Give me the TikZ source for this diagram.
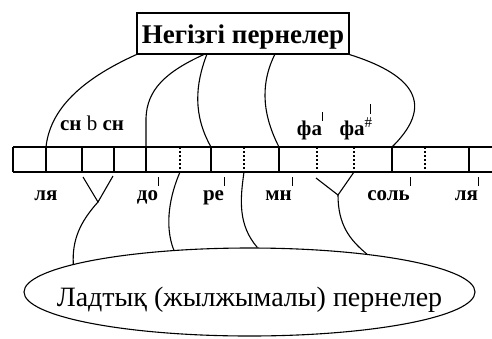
\documentclass[tikz,border=0pt]{standalone}
\usepackage{fontspec}
\setmainfont{Liberation Serif}
\usetikzlibrary{shapes.geometric}
\newcommand\pbar{\kern0.3pt\raisebox{1.5ex}{\rule{0.7pt}{0.85ex}}}
\begin{document}
\begin{tikzpicture}[x=1pt,y=-1pt,
  conn/.style={line width=1.1pt},
  rail/.style={line width=1.4pt},
  heavytick/.style={line width=2.2pt},
  lighttick/.style={line width=1.2pt},
  dottick/.style={line width=1.4pt, dash pattern=on 2pt off 2pt},
  lab/.style={font=\bfseries\fontsize{21}{24}\selectfont, inner sep=0pt, anchor=base},
  boxstyle/.style={draw, line width=1.1pt, minimum width=212pt, minimum height=41pt, inner sep=0pt},
  ellstyle/.style={draw, ellipse, line width=1.1pt, minimum width=451pt, minimum height=88pt, inner sep=0pt}
]
\useasboundingbox (0,0) rectangle (492,338);

% top box
\node[boxstyle] (B) at (243,33.5) {};
\node[anchor=base, inner sep=0pt, font=\bfseries\fontsize{27}{30}\selectfont] (Bt) at (243,43) {Негізгі пернелер};

% ellipse
\node[ellstyle] (E) at (249.5,292) {};
\node[anchor=base, inner sep=0pt, font=\fontsize{28}{31}\selectfont] (Et) at (249.5,306) {Ладтық (жылжымалы) пернелер};

% strip
\coordinate (sl1) at (13,147); \coordinate (sr1) at (492,147);
\coordinate (sl2) at (13,172); \coordinate (sr2) at (492,172);
\draw[rail] (sl1) -- (sr1);
\draw[rail] (sl2) -- (sr2);
\foreach \x in {13,46,82,114,146,180,211,244,279,317,354,392,425,469}{
  \coordinate (t\x) at (\x,147);
  \coordinate (b\x) at (\x,172);
}
\foreach \x in {13,82,114} \draw[lighttick] (t\x) -- (b\x);
\foreach \x in {46,146,211,279,392,469} \draw[heavytick] (t\x) -- (b\x);
\foreach \x in {180,244,317,354,425} \draw[dottick] (t\x) -- (b\x);

% connectors from top box
\coordinate (o2) at (205,54);
\coordinate (o3) at (207,54);
\coordinate (o4) at (275,54);
\draw[conn] (B.south west) .. controls (80,80) and (50,110) .. (t46);
\draw[conn] (o2) .. controls (165,72) and (147,90) .. (146,118) -- (t146);
\draw[conn] (o3) .. controls (195,85) and (193,115) .. (t211);
\draw[conn] (o4) .. controls (262,80) and (260,110) .. (t279);
\draw[conn] (B.south east) .. controls (405,72) and (440,100) .. (t392);

% connectors to ellipse
\coordinate (a1) at (83,177);
\coordinate (a2) at (113,176);
\coordinate (j1) at (98,202);
\draw[conn] (a1) -- (j1) -- (a2);
\draw[conn] (j1) .. controls (80,222) and (72,240) .. (E.171.8);
\draw[conn] (b180) .. controls (170,195) and (164,225) .. (E.151.8);
\draw[conn] (b244) .. controls (240,200) and (238,225) .. (E.80.3);
\coordinate (a3) at (316,178);
\coordinate (a4) at (354,172);
\coordinate (j2) at (338,195);
\draw[conn] (a3) -- (j2) -- (a4);
\draw[conn] (j2) .. controls (338,225) and (350,240) .. (E.18);

% labels above
\node[lab] (lsi) at (92,130) {сн {\mdseries b} сн};
\node[lab] (lfa) at (310,135) {фа\pbar};
\node[lab] (lfas) at (355,135) {фа\raisebox{0.8ex}{\mdseries\fontsize{15}{15}\selectfont\#}\kern-2.5pt\raisebox{2.2ex}{\rule{0.7pt}{1.0ex}}};

% labels below
\node[lab] (l1) at (46,200) {ля};
\node[lab] (l2) at (148,200) {до\pbar};
\node[lab] (l3) at (214,200) {ре\pbar};
\node[lab] (l4) at (279,200) {мн\pbar};
\node[lab] (l5) at (389,200) {соль\pbar};
\node[lab] (l6) at (467,200) {ля\pbar};
\end{tikzpicture}
\end{document}
